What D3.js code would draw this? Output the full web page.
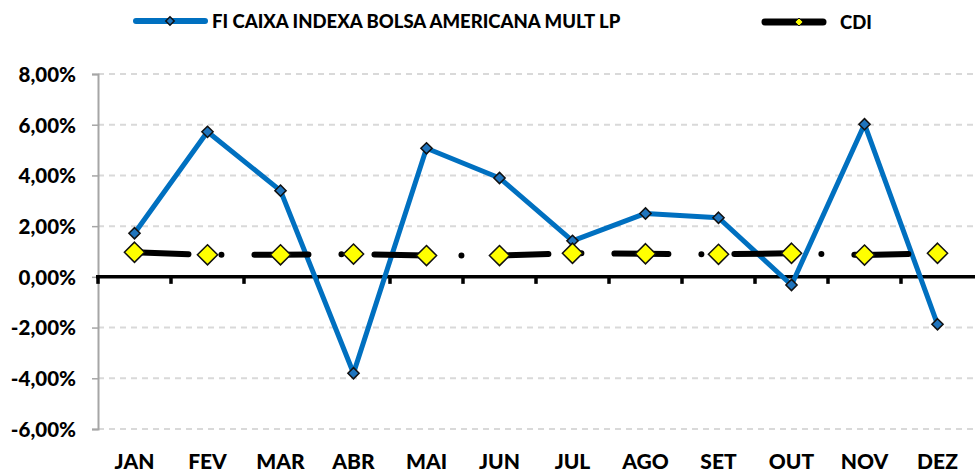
<!DOCTYPE html>
<html>
<head>
<meta charset="utf-8">
<style>
  body { margin: 0; background: #fff; }
  svg { display: block; font-family: Lato, "Open Sans", sans-serif; font-weight: 900; }
</style>
</head>
<body>
<svg></svg>
<script src="https://d3js.org/d3.v7.min.js"></script>
<script>
  const width = 975;
  const height = 473;

  const months = ["JAN", "FEV", "MAR", "ABR", "MAI", "JUN", "JUL", "AGO", "SET", "OUT", "NOV", "DEZ"];
  const fundo = [1.72, 5.72, 3.40, -3.80, 5.07, 3.90, 1.42, 2.50, 2.33, -0.32, 6.02, -1.87];
  const cdi = [0.97, 0.87, 0.87, 0.90, 0.84, 0.84, 0.93, 0.91, 0.89, 0.93, 0.86, 0.93];
  const yTicks = [-6, -4, -2, 0, 2, 4, 6, 8];
  const fundoName = "FI CAIXA INDEXA BOLSA AMERICANA MULT LP";
  const cdiName = "CDI";

  const svg = d3.select("svg").attr("width", width).attr("height", height);

  const x = d3.scaleBand().domain(months).range([98, 974]);
  const y = d3.scaleLinear().domain([-6, 8]).range([429, 74]);
  const cx = m => x(m) + x.bandwidth() / 2;
  const fmt = v => v.toFixed(2).replace(".", ",") + "%";

  // gridlines
  svg.append("g")
    .selectAll("line")
    .data(yTicks.filter(d => d !== 0))
    .join("line")
    .attr("x1", 98).attr("x2", 975)
    .attr("y1", d => y(d)).attr("y2", d => y(d))
    .attr("stroke", "#d9d9d9")
    .attr("stroke-width", 2)
    .attr("stroke-dasharray", "6,5");

  // y axis
  const yAxis = svg.append("g")
    .attr("transform", "translate(98,0)")
    .call(d3.axisLeft(y).tickValues(yTicks).tickFormat(fmt).tickSize(6).tickPadding(16));
  yAxis.select(".domain").attr("stroke", "#a6a6a6").attr("stroke-width", 2);
  yAxis.selectAll(".tick line").attr("stroke", "#a6a6a6").attr("stroke-width", 1.5);
  yAxis.selectAll(".tick text")
    .attr("fill", "#000")
    .attr("dy", "0.36em")
    .style("font-family", "Lato, sans-serif")
    .style("font-weight", "900")
    .style("font-size", "20.5px");

  // zero line with category ticks
  const xAxis = svg.append("g")
    .attr("transform", `translate(0,${y(0)})`);
  xAxis.append("line")
    .attr("x1", 96).attr("x2", 975)
    .attr("stroke", "#000").attr("stroke-width", 3.5);
  xAxis.selectAll(".ctick")
    .data(months)
    .join("line")
    .attr("class", "ctick")
    .attr("x1", d => x(d)).attr("x2", d => x(d))
    .attr("y1", 0).attr("y2", 7)
    .attr("stroke", "#000").attr("stroke-width", 3.5);

  // month labels
  svg.append("g")
    .selectAll("text")
    .data(months)
    .join("text")
    .attr("x", d => cx(d))
    .attr("y", 469)
    .attr("text-anchor", "middle")
    .style("font-size", "21px")
    .text(d => d);

  // FI series
  const lineFundo = d3.line().x((d, i) => cx(months[i])).y(d => y(d));
  svg.append("path")
    .datum(fundo)
    .attr("d", lineFundo)
    .attr("fill", "none")
    .attr("stroke", "#0070c0")
    .attr("stroke-width", 5)
    .attr("stroke-linejoin", "round");

  const diamond = d3.symbol().type(d3.symbolDiamond2);
  svg.append("g")
    .selectAll("path")
    .data(fundo)
    .join("path")
    .attr("transform", (d, i) => `translate(${cx(months[i])},${y(d)})`)
    .attr("d", diamond.size(80)())
    .attr("fill", "#1f74bd")
    .attr("stroke", "#111")
    .attr("stroke-width", 1.5);

  // CDI series
  svg.append("path")
    .datum(cdi)
    .attr("d", d3.line().x((d, i) => cx(months[i])).y(d => y(d)))
    .attr("fill", "none")
    .attr("stroke", "#000")
    .attr("stroke-width", 6)
    .attr("stroke-linecap", "round")
    .attr("stroke-linejoin", "round")
    .attr("stroke-dasharray", "54,33,0,33");

  svg.append("g")
    .selectAll("path")
    .data(cdi)
    .join("path")
    .attr("transform", (d, i) => `translate(${cx(months[i])},${y(d)})`)
    .attr("d", diamond.size(260)())
    .attr("fill", "#ffff00")
    .attr("stroke", "#111")
    .attr("stroke-width", 1.5);

  // legend
  const leg = svg.append("g");
  leg.append("line")
    .attr("x1", 136).attr("x2", 205).attr("y1", 21).attr("y2", 21)
    .attr("stroke", "#0070c0").attr("stroke-width", 6).attr("stroke-linecap", "round");
  leg.append("path")
    .attr("transform", "translate(170,21)")
    .attr("d", diamond.size(45)())
    .attr("fill", "#1f74bd").attr("stroke", "#111").attr("stroke-width", 1.5);
  leg.append("text")
    .attr("x", 212).attr("y", 28)
    .style("font-size", "18.5px")
    .text(fundoName);

  leg.append("line")
    .attr("x1", 765).attr("x2", 823).attr("y1", 22).attr("y2", 22)
    .attr("stroke", "#000").attr("stroke-width", 7).attr("stroke-linecap", "round");
  leg.append("path")
    .attr("transform", "translate(799,22)")
    .attr("d", diamond.size(40)())
    .attr("fill", "#ffff00").attr("stroke", "#111").attr("stroke-width", 1);
  leg.append("text")
    .attr("x", 840).attr("y", 29)
    .style("font-size", "18.5px")
    .text(cdiName);
</script>
</body>
</html>
